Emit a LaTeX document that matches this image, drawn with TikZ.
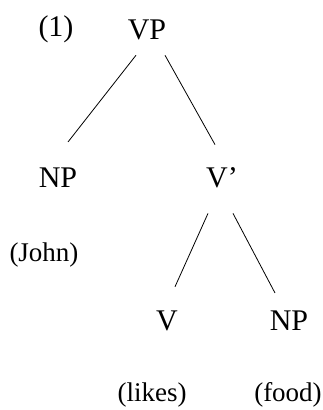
\documentclass[tikz,border=0pt]{standalone}
\usepackage{fontspec}
\setmainfont{Liberation Serif}

\begin{document}
\begin{tikzpicture}[x=1pt,y=-1pt,
  cat/.style={inner sep=0pt,font=\fontsize{30}{36}\selectfont},
  word/.style={inner sep=0pt,font=\fontsize{27}{32}\selectfont},
  branch/.style={line width=0.8pt}]
  \useasboundingbox (0,0) rectangle (322,410);
  % ---------------- labels
  \node[cat] (ex) at (56,29) {(1)};
  \node[cat] (vp) at (147,30) {VP};
  \node[cat] (np1) at (58,178) {NP};
  \node[cat] (vbar) at (222,178) {V’};
  \node[cat] (v) at (167,321) {V};
  \node[cat] (np2) at (289,321) {NP};
  \node[word] (john) at (44,255) {(John)};
  \node[word] (likes) at (152,395) {(likes)};
  \node[word] (food) at (288,395) {(food)};
  % ---------------- branches
  \draw[branch] ([shift={(-11,15)}]vp.south) -- ([shift={(10,-26)}]np1.north);
  \draw[branch] ([shift={(18,15)}]vp.south) -- ([shift={(-7,-23)}]vbar.north);
  \draw[branch] ([shift={(-14,25)}]vbar.south) -- ([shift={(8,-24)}]v.north);
  \draw[branch] ([shift={(11,25)}]vbar.south) -- ([shift={(-14,-18)}]np2.north);
\end{tikzpicture}
\end{document}
